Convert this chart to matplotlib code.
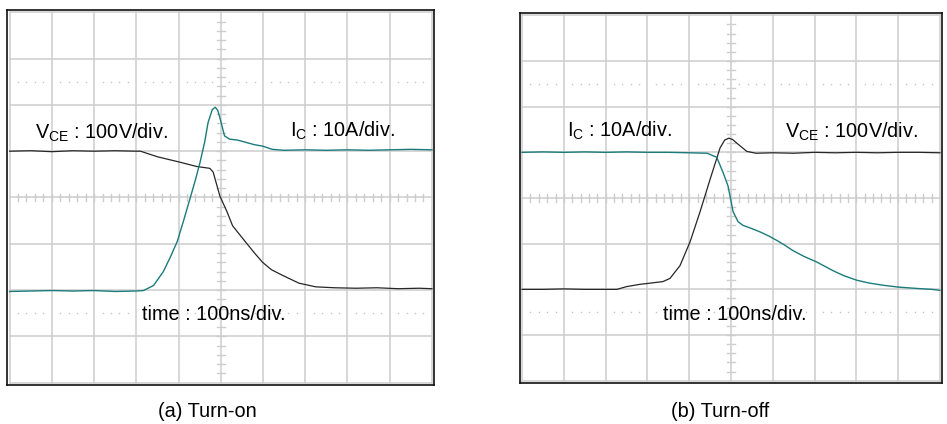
import numpy as np
import matplotlib.pyplot as plt

plt.rcParams['font.family'] = ['Liberation Sans', 'DejaVu Sans']
plt.rcParams['mathtext.fontset'] = 'custom'
plt.rcParams['mathtext.rm'] = 'Liberation Sans'

# screen divisions: x 0..10 (100 ns/div), y 0..8
# (a) turn-on
on_t_v = [0, 0.5, 1.0, 1.5, 2.0, 2.5, 3.0, 3.1, 3.5, 4.0, 4.43, 4.74, 4.82, 4.98,
          5.14, 5.28, 5.56, 5.8, 5.99, 6.2, 6.46, 6.85, 7.25, 7.7, 8.2, 8.7, 9.2, 9.7, 10.0]
on_vce = [5.0, 5.01, 4.99, 5.01, 5.0, 5.01, 5.0, 5.0, 4.88, 4.77, 4.67, 4.63, 4.55, 4.03,
          3.71, 3.39, 3.07, 2.8, 2.6, 2.44, 2.32, 2.15, 2.07, 2.05, 2.04, 2.05, 2.03, 2.04, 2.03]

on_t_i = [0, 0.5, 1, 1.5, 2, 2.5, 3.0, 3.17, 3.41, 3.64, 3.8, 3.97, 4.12, 4.27, 4.4,
          4.51, 4.62, 4.7, 4.8, 4.87, 4.93, 4.98, 5.09, 5.21, 5.4, 5.6, 5.8, 5.99, 6.22, 6.5,
          7, 7.5, 8, 8.5, 9, 9.5, 10]
on_ic = [1.97, 1.98, 1.99, 1.98, 1.99, 1.97, 1.98, 1.99, 2.1, 2.4, 2.7, 3.05, 3.5, 3.97, 4.38,
         4.76, 5.2, 5.62, 5.9, 5.95, 5.88, 5.72, 5.33, 5.26, 5.24, 5.19, 5.14, 5.11, 5.04, 5.02,
         5.03, 5.02, 5.03, 5.02, 5.03, 5.04, 5.03]

# (b) turn-off
off_t_i = [0, 0.5, 1, 1.5, 2, 2.5, 3, 3.5, 4.0, 4.43, 4.66, 4.81, 4.93, 5.05, 5.17, 5.29,
           5.5, 5.69, 5.9, 6.1, 6.3, 6.48, 6.75, 7.05, 7.44, 7.7, 8.01, 8.3, 8.64, 9.0,
           9.45, 9.8, 10.0]
off_ic = [5.0, 5.01, 5.0, 5.01, 5.0, 5.01, 5.0, 5.0, 4.99, 4.98, 4.89, 4.56, 4.26, 3.7, 3.48,
          3.4, 3.33, 3.26, 3.17, 3.07, 2.96, 2.85, 2.72, 2.6, 2.41, 2.3, 2.2, 2.14, 2.09,
          2.05, 2.02, 2.0, 1.98]

off_t_v = [0, 0.5, 1, 1.5, 2, 2.27, 2.5, 2.82, 3.1, 3.37, 3.54, 3.78, 4.02, 4.26, 4.5,
           4.74, 4.85, 4.95, 5.04, 5.14, 5.38, 5.6, 6, 6.5, 7, 7.5, 8, 8.5, 9, 9.5, 10]
off_vce = [2.0, 2.0, 2.01, 2.0, 2.0, 2.0, 2.06, 2.11, 2.14, 2.17, 2.24, 2.52, 3.04, 3.7, 4.41,
           5.1, 5.27, 5.31, 5.28, 5.2, 5.02, 4.98, 4.99, 4.98, 5.0, 4.99, 5.0, 4.99, 5.0, 5.0, 4.99]

teal = '#1b7b7b'
dark = '#262626'
gridc = '#cdcdcd'


def graticule(ax):
    for x in range(0, 11):
        ax.plot([x, x], [0, 8], color=gridc, lw=1.1, zorder=1)
    for y in range(0, 9):
        ax.plot([0, 10], [y, y], color=gridc, lw=1.1, zorder=1)
    minor_x = np.arange(0.2, 10, 0.2)
    minor_y = np.arange(0.2, 8, 0.2)
    # center line ticks
    for x in minor_x:
        ax.plot([x, x], [3.915, 4.085], color=gridc, lw=1.0, zorder=1)
    for y in minor_y:
        ax.plot([4.905, 5.095], [y, y], color=gridc, lw=1.0, zorder=1)
    # dotted 0% / 100% lines
    dots = [x for x in minor_x if abs(x - round(x)) > 0.05]
    for y in (1.5, 6.5):
        ax.plot(dots, [y] * len(dots), ls='none', marker='s', ms=1.0,
                mec='none', mfc='#c4c4c4', zorder=1)
    ax.set_xlim(-0.05, 10.05)
    ax.set_ylim(-0.05, 8.05)
    ax.set_xticks([])
    ax.set_yticks([])
    for s in ax.spines.values():
        s.set_color('#111111')
        s.set_linewidth(1.2)


fig = plt.figure(figsize=(9.47, 4.24), dpi=100)
ax1 = fig.add_axes([0.0079, 0.092, 0.4504, 0.8844])
ax2 = fig.add_axes([0.5491, 0.0967, 0.4456, 0.8726])

fs = 14.3
graticule(ax1)
ax1.plot(on_t_v, on_vce, color=dark, lw=0.9, zorder=3)
ax1.plot(on_t_i, on_ic, color=teal, lw=1.0, zorder=3)
ax1.text(0.61, 5.26, r'V$_\mathregular{CE}$ : 100V/div.', fontsize=fs)
ax1.text(6.63, 5.32, r'I$_\mathregular{C}$ : 10A/div.', fontsize=fs)
ax1.text(3.14, 1.35, 'time : 100ns/div.', fontsize=fs)

graticule(ax2)
ax2.plot(off_t_v, off_vce, color=dark, lw=0.9, zorder=3)
ax2.plot(off_t_i, off_ic, color=teal, lw=1.0, zorder=3)
ax2.text(1.08, 5.35, r'I$_\mathregular{C}$ : 10A/div.', fontsize=fs)
ax2.text(6.29, 5.33, r'V$_\mathregular{CE}$ : 100V/div.', fontsize=fs)
ax2.text(3.37, 1.33, 'time : 100ns/div.', fontsize=fs)

fig.text(207 / 947, 1 - 417 / 424, '(a) Turn-on', fontsize=fs, ha='center', va='baseline')
fig.text(720 / 947, 1 - 417 / 424, '(b) Turn-off', fontsize=fs, ha='center', va='baseline')

fig.savefig('out.png', dpi=100)
